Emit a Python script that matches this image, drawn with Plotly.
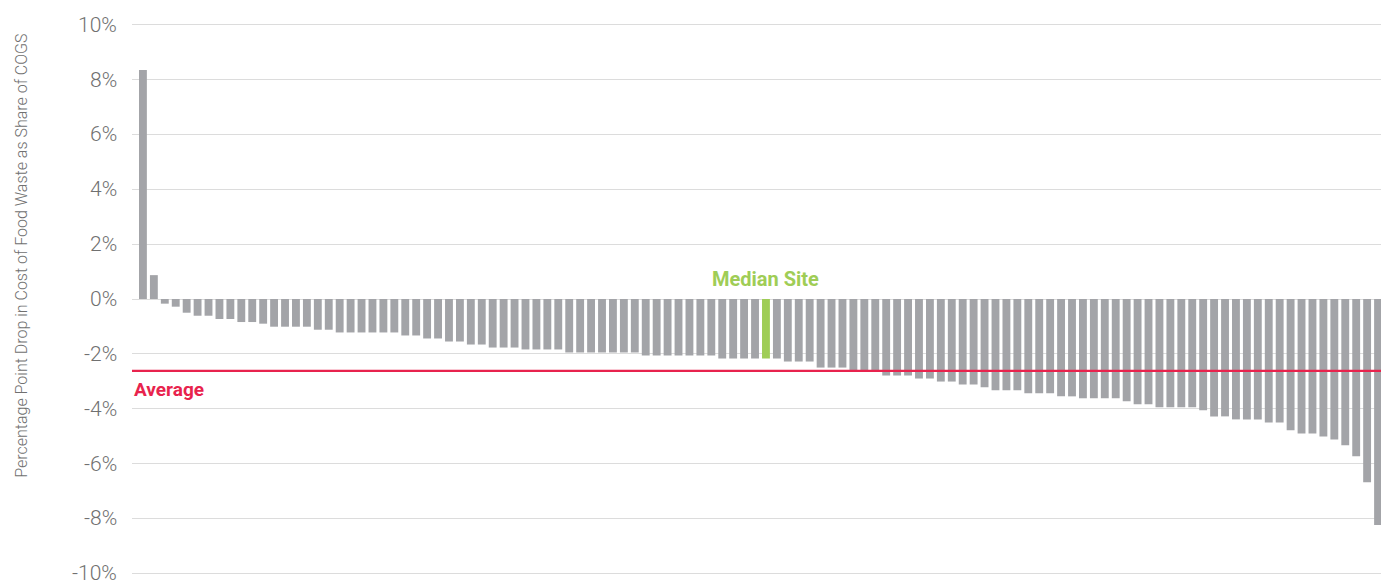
import plotly.graph_objects as go

# ---- data (percentage points) ----
site_values = [
    8.35, 0.87, -0.17, -0.28, -0.50, -0.61, -0.61, -0.73, -0.73, -0.84,
    -0.84, -0.90, -1.01, -1.01, -1.01, -1.01, -1.12, -1.12, -1.22, -1.22,
    -1.22, -1.22, -1.22, -1.22, -1.33, -1.33, -1.44, -1.44, -1.55, -1.55,
    -1.66, -1.66, -1.77, -1.77, -1.77, -1.84, -1.84, -1.84, -1.84, -1.95,
    -1.95, -1.95, -1.95, -1.95, -1.95, -1.95, -2.06, -2.06, -2.06, -2.06,
    -2.06, -2.06, -2.06, -2.17, -2.17, -2.17, -2.17, -2.17, -2.17, -2.28,
    -2.28, -2.28, -2.50, -2.50, -2.50, -2.60, -2.60, -2.60, -2.79, -2.79,
    -2.79, -2.90, -2.90, -3.01, -3.01, -3.12, -3.12, -3.22, -3.33, -3.33,
    -3.33, -3.44, -3.44, -3.44, -3.55, -3.55, -3.62, -3.62, -3.62, -3.62,
    -3.73, -3.84, -3.84, -3.95, -3.95, -3.95, -3.95, -4.06, -4.28, -4.28,
    -4.39, -4.39, -4.39, -4.50, -4.50, -4.79, -4.90, -4.90, -5.01, -5.12,
    -5.33, -5.73, -6.68, -8.24,
]
site_index = list(range(len(site_values)))
median_index = 57
average_value = -2.62
y_ticks = [-10, -8, -6, -4, -2, 0, 2, 4, 6, 8, 10]
y_tick_labels = [f"{t}%" for t in y_ticks]

GRAY = "#a3a4a8"
GREEN = "#9fcd56"
RED = "#e8234d"
TXT = "#707070"

colors = [GREEN if i == median_index else GRAY for i in site_index]

fig = go.Figure()
fig.add_trace(go.Bar(x=site_index, y=site_values, marker=dict(color=colors, line=dict(width=0)),
                     hoverinfo="skip"))

fig.add_shape(type="line", xref="paper", x0=0, x1=1, yref="y", y0=average_value, y1=average_value,
              line=dict(color=RED, width=2.2), layer="above")

fig.add_annotation(x=median_index, y=0, xref="x", yref="y", text="<b>Median Site</b>",
                   showarrow=False, yanchor="bottom", yshift=6,
                   font=dict(family="Roboto", size=20, color=GREEN))
fig.add_annotation(x=0, xref="paper", y=average_value, yref="y", text="<b>Average</b>",
                   showarrow=False, xanchor="left", yanchor="top", yshift=-5,
                   font=dict(family="Roboto", size=19, color=RED))
fig.add_annotation(x=0, xref="paper", xshift=-110, y=0.578, yref="paper",
                   text="Percentage Point Drop in Cost of Food Waste as Share of COGS",
                   textangle=-90, showarrow=False, xanchor="center", yanchor="middle",
                   font=dict(family="Roboto", size=16, color=TXT, weight=300))

# y tick labels placed through the y scale (the bottom one would otherwise be auto-hidden)
for tv, tl in zip(y_ticks, y_tick_labels):
    fig.add_annotation(x=0, xref="paper", y=tv, yref="y", text=tl, showarrow=False,
                       xanchor="right", yanchor="middle", xshift=-13,
                       font=dict(family="Roboto", size=21, color=TXT, weight=300))

fig.update_layout(
    width=1381, height=582,
    margin=dict(l=132, r=0, t=22, b=6),
    plot_bgcolor="white", paper_bgcolor="white",
    bargap=0.28, showlegend=False,
    xaxis=dict(range=[-1.0, 113.27], showticklabels=False, showgrid=False,
               zeroline=False, showline=False, ticks=""),
    yaxis=dict(range=[-10.1, 10.1], tickvals=y_ticks, showticklabels=False,
               showgrid=True, gridcolor="#dcdcdc", gridwidth=1, zeroline=False,
               showline=False, ticks=""),
)

fig.write_html(
    "out.html",
    config={"displayModeBar": False},
    post_script="document.body.style.margin='0';document.body.style.overflow='hidden';",
)
